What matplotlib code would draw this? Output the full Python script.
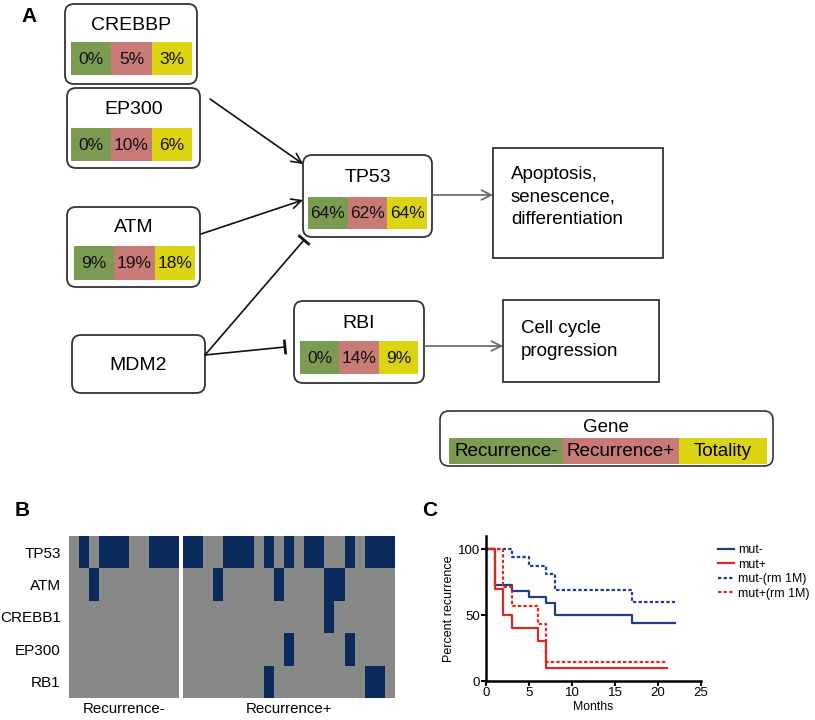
import numpy as np
import matplotlib
matplotlib.use("Agg")
import matplotlib.pyplot as plt
from matplotlib.patches import FancyBboxPatch, Rectangle
from matplotlib.colors import ListedColormap

plt.rcParams["font.family"] = ["Liberation Sans", "DejaVu Sans"]

W, H = 815, 720

# ---------- data ----------
# panel A: mutation frequency (Recurrence-, Recurrence+, Totality)
gene_names = ["CREBBP", "EP300", "ATM", "TP53", "RBI"]
pct_rec_neg = ["0%", "0%", "9%", "64%", "0%"]
pct_rec_pos = ["5%", "10%", "19%", "62%", "14%"]
pct_total = ["3%", "6%", "18%", "64%", "9%"]
legend_labels = ["Recurrence-", "Recurrence+", "Totality"]

# panel B: mutation matrix (rows = genes)
heat_rows = ["TP53", "ATM", "CREBB1", "EP300", "RB1"]
heat_rec_neg = [
    [0, 1, 0, 1, 1, 1, 0, 0, 1, 1, 1],
    [0, 0, 1, 0, 0, 0, 0, 0, 0, 0, 0],
    [0, 0, 0, 0, 0, 0, 0, 0, 0, 0, 0],
    [0, 0, 0, 0, 0, 0, 0, 0, 0, 0, 0],
    [0, 0, 0, 0, 0, 0, 0, 0, 0, 0, 0],
]
heat_rec_pos = [
    [1, 1, 0, 0, 1, 1, 1, 0, 1, 0, 1, 0, 1, 1, 0, 0, 1, 0, 1, 1, 1],
    [0, 0, 0, 1, 0, 0, 0, 0, 0, 1, 0, 0, 0, 0, 1, 1, 0, 0, 0, 0, 0],
    [0, 0, 0, 0, 0, 0, 0, 0, 0, 0, 0, 0, 0, 0, 1, 0, 0, 0, 0, 0, 0],
    [0, 0, 0, 0, 0, 0, 0, 0, 0, 0, 1, 0, 0, 0, 0, 0, 1, 0, 0, 0, 0],
    [0, 0, 0, 0, 0, 0, 0, 0, 1, 0, 0, 0, 0, 0, 0, 0, 0, 0, 1, 1, 0],
]

# panel C: Kaplan-Meier style curves
t_mut_neg = [0, 1, 3, 5, 7, 8, 17, 22]
v_mut_neg = [100, 72.7, 68.2, 63.6, 59.1, 50, 43.8, 43.8]
t_mut_pos = [0, 1, 2, 3, 6, 7, 21]
v_mut_pos = [100, 70, 50, 40, 30, 10, 10]
t_mut_neg_rm = [0, 3, 5, 7, 8, 17, 22]
v_mut_neg_rm = [100, 93.8, 87.5, 81.3, 68.8, 60, 60]
t_mut_pos_rm = [0, 2, 3, 6, 7, 21]
v_mut_pos_rm = [100, 71.4, 57.1, 42.9, 14.3, 14.3]

# ---------- styles ----------
GREEN, PINK, YELLOW = "#7c9b52", "#c87b76", "#dcd413"
SEG_COLORS = [GREEN, PINK, YELLOW]
GRAY_CELL, NAVY = "#888888", "#0b2a5c"
BLUE, RED = "#1f3c8e", "#d92a20"

fig = plt.figure(figsize=(W / 100, H / 100), dpi=100)
ax = fig.add_axes([0, 0, 1, 1])
ax.set_xlim(0, W)
ax.set_ylim(H, 0)
ax.axis("off")


def px_axes(x0, y0, x1, y1):
    return fig.add_axes([x0 / W, 1 - y1 / H, (x1 - x0) / W, (y1 - y0) / H])


def rbox(x0, y0, x1, y1, rounded=True, lw=1.3):
    style = "round,pad=0,rounding_size=9" if rounded else "square,pad=0"
    ax.add_patch(FancyBboxPatch((x0, y0), x1 - x0, y1 - y0, boxstyle=style,
                                fc="white", ec="#333333", lw=lw, zorder=2))


def strip(x0, y0, x1, y1, labels, fs=12.5):
    w = (x1 - x0) / 3
    for i, (lab, c) in enumerate(zip(labels, SEG_COLORS)):
        ax.add_patch(Rectangle((x0 + i * w, y0), w, y1 - y0, fc=c, ec="none", zorder=3))
        ax.text(x0 + (i + 0.5) * w, (y0 + y1) / 2 + 1, lab, ha="center", va="center",
                fontsize=fs, color="#111111", zorder=4)


# ---------- panel A ----------
ax.text(21, 16, "A", fontsize=15, fontweight="bold", va="center")

# box, strip, title y
layout = {
    "CREBBP": ((65, 4, 197, 84), (71, 42, 192, 75), 26),
    "EP300": ((67, 88, 200, 168), (71, 128, 192, 161), 109),
    "ATM": ((67, 207, 200, 287), (74, 246, 195, 280), 228),
    "TP53": ((303, 155, 432, 237), (308, 197, 427, 229), 178),
    "RBI": ((294, 301, 424, 383), (300, 341, 418, 374), 324),
}
for i, g in enumerate(gene_names):
    (bx0, by0, bx1, by1), (sx0, sy0, sx1, sy1), ty = layout[g]
    rbox(bx0, by0, bx1, by1)
    ax.text((bx0 + bx1) / 2, ty, g, ha="center", va="center", fontsize=14, zorder=4)
    strip(sx0, sy0, sx1, sy1, [pct_rec_neg[i], pct_rec_pos[i], pct_total[i]])

rbox(72, 335, 205, 393)
ax.text(138, 365, "MDM2", ha="center", va="center", fontsize=14, zorder=4)

rbox(493, 148, 663, 258, rounded=False)
ax.text(511, 197, "Apoptosis,\nsenescence,\ndifferentiation", ha="left", va="center",
        fontsize=13.5, linespacing=1.42, zorder=4)
rbox(503, 300, 659, 382, rounded=False)
ax.text(521, 340, "Cell cycle\nprogression", ha="left", va="center",
        fontsize=13.5, linespacing=1.42, zorder=4)


def arrow(p0, p1, color="#111111"):
    ax.annotate("", xy=p1, xytext=p0,
                arrowprops=dict(arrowstyle="->,head_length=0.7,head_width=0.35",
                                color=color, lw=1.2, shrinkA=0, shrinkB=0))


def inhibit(p0, p1, half=6):
    ax.plot([p0[0], p1[0]], [p0[1], p1[1]], color="#111111", lw=1.2)
    d = np.array(p1, float) - np.array(p0, float)
    n = np.array([-d[1], d[0]]) / np.hypot(*d)
    a = np.array(p1) + n * half
    b = np.array(p1) - n * half
    ax.plot([a[0], b[0]], [a[1], b[1]], color="#111111", lw=2)


arrow((210, 99), (303, 164))
arrow((201, 234), (303, 200))
inhibit((205, 355), (304, 240))
inhibit((205, 355), (285, 347))
arrow((432, 195), (493, 195), color="#666666")
arrow((424, 346), (503, 346), color="#666666")

# legend box
rbox(440, 411, 773, 466, lw=1.2)
ax.text(606, 427, "Gene", ha="center", va="center", fontsize=13.5, zorder=4)
seg_x = [449, 563, 679, 767]
for i, lab in enumerate(legend_labels):
    ax.add_patch(Rectangle((seg_x[i], 438), seg_x[i + 1] - seg_x[i], 26,
                           fc=SEG_COLORS[i], ec="none", zorder=3))
    ax.text((seg_x[i] + seg_x[i + 1]) / 2, 452, lab, ha="center", va="center",
            fontsize=13.6, zorder=4)

# ---------- panel B ----------
ax.text(15, 510, "B", fontsize=15, fontweight="bold", va="center")
cmap = ListedColormap([GRAY_CELL, NAVY])
axl = px_axes(69, 536, 179, 698)
axr = px_axes(183, 536, 395, 698)
for a, mat, lab in [(axl, heat_rec_neg, "Recurrence-"), (axr, heat_rec_pos, "Recurrence+")]:
    m = np.array(mat)
    a.pcolormesh(m, cmap=cmap, vmin=0, vmax=1)
    a.set_ylim(m.shape[0], 0)
    a.set_xticks([])
    a.set_yticks([])
    for s in a.spines.values():
        s.set_visible(False)
    a.set_xlabel(lab, fontsize=10.8, labelpad=3)
axl.set_yticks(np.arange(len(heat_rows)) + 0.5)
axl.set_yticklabels(heat_rows, fontsize=11)
axl.tick_params(axis="y", length=0, pad=6)

# ---------- panel C ----------
ax.text(422, 510, "C", fontsize=15, fontweight="bold", va="center")
axc = px_axes(486, 536, 701, 681)
dash = (1.5, 1.0)
axc.step(t_mut_neg, v_mut_neg, where="post", color=BLUE, lw=1.6, label="mut-")
axc.step(t_mut_pos, v_mut_pos, where="post", color=RED, lw=1.6, label="mut+")
axc.step(t_mut_neg_rm, v_mut_neg_rm, where="post", color=BLUE, lw=1.6,
         dashes=dash, label="mut-(rm 1M)")
axc.step(t_mut_pos_rm, v_mut_pos_rm, where="post", color=RED, lw=1.6,
         dashes=dash, label="mut+(rm 1M)")
axc.set_xlim(0, 25)
axc.set_ylim(0, 110)
axc.set_xticks([0, 5, 10, 15, 20, 25])
axc.set_yticks([0, 50, 100])
axc.spines[["top", "right"]].set_visible(False)
for s in ["left", "bottom"]:
    axc.spines[s].set_linewidth(1.8)
axc.tick_params(labelsize=9.5, width=1.5, length=3.5, pad=1)
axc.set_xlabel("Months", fontsize=8.8, labelpad=1)
axc.set_ylabel("Percent recurrence", fontsize=9, labelpad=2)
axc.legend(loc="upper left", bbox_to_anchor=(712 / W, 1 - 538 / H),
           bbox_transform=fig.transFigure, frameon=False, fontsize=8.9,
           handlelength=1.3, handletextpad=0.3, labelspacing=0.2, borderpad=0)

fig.savefig("out.png", dpi=100)
